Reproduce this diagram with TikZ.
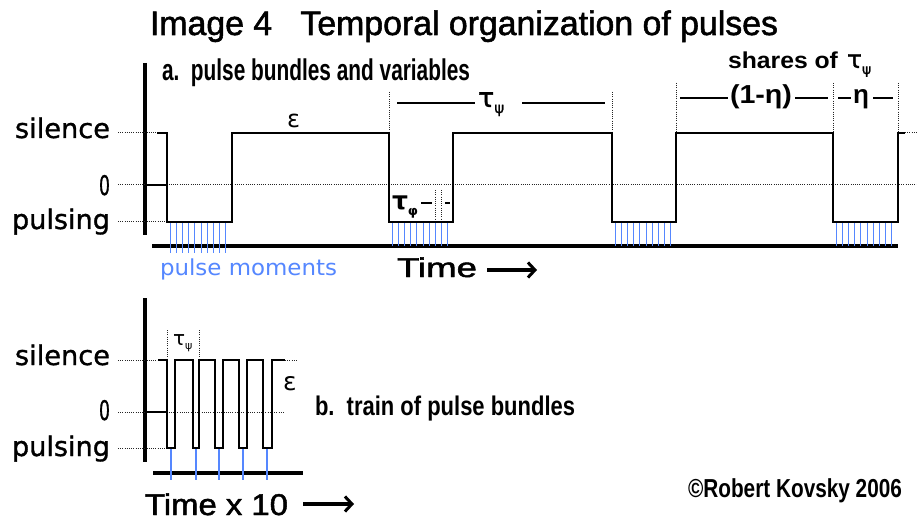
\documentclass[tikz,border=0pt]{standalone}
\usepackage{fontspec}
\setmainfont{DejaVu Sans}
\newfontfamily\lib{Liberation Sans}
\newfontfamily\libfb[FakeBold=1.6]{Liberation Sans}
\newfontfamily\djfb[FakeBold=1.2]{DejaVu Sans}
\usetikzlibrary{arrows.meta}
\definecolor{pulseblue}{RGB}{85,135,255}
\newcommand\fitw[2]{\resizebox{#1}{\height}{#2}}
\begin{document}
\begin{tikzpicture}[x=1pt,y=-1pt,
  wave/.style={line width=1.3pt, line join=miter},
  dots/.style={line width=1pt, dash pattern=on 1pt off 1.2pt, black!85},
  axisline/.style={line width=3.2pt},
  ptick/.style={pulseblue, line width=1pt},
  bigtick/.style={pulseblue, line width=2.6pt},
  lbl/.style={anchor=base west, inner sep=0pt, outer sep=0pt},
  dimline/.style={line width=1.2pt},
  timearrow/.style={line width=3.6pt, -{Straight Barb[length=7pt,width=15pt,line width=3pt]}},
  ylab/.style={lbl, font=\djfb\fontsize{27}{32}\selectfont},
  boldlab/.style={lbl, font=\lib\bfseries\fontsize{30}{34}\selectfont},
]
\useasboundingbox[fill=white] (0,0) rectangle (917,521);

% ---------- title ----------
\node[lbl, font=\libfb\fontsize{34}{40}\selectfont] (title) at (150,35)
  {\fitw{628pt}{Image 4\ \ \ Temporal organization of pulses}};

% ---------- panel a ----------
\node[boldlab] (alab) at (162,81) {\fitw{308pt}{a.\ \ pulse bundles and variables}};
\node[lbl, font=\lib\bfseries\fontsize{23}{26}\selectfont] (shares) at (728,69) {\fitw{110pt}{shares of}};
\node[lbl, font=\djfb\fontsize{25}{28}\selectfont] (sharetau) at (847,68)
  {τ\raisebox{-6pt}{\fontsize{14}{16}\selectfont ψ}};

\node[ylab] (sil) at (15,138) {\fitw{95pt}{silence}};
\node[ylab] (zero) at (99,195) {\fitw{11pt}{0}};
\node[ylab] (puls) at (12,229) {\fitw{98pt}{pulsing}};

% axes
\draw[axisline] (145,63) -- (145,235);
\draw[axisline] (152,246) -- (898,246);

% dotted level lines
\draw[dots] (118,133) -- (157,133);
\draw[dots] (118,185) -- (917,185);
\draw[dots] (118,222) -- (167,222);
\draw[dots] (905,133) -- (917,133);

% dotted verticals
\draw[dots] (389,92) -- (389,133);
\draw[dots] (612,92) -- (612,133);
\draw[dots] (676,83) -- (676,133);
\draw[dots] (833,83) -- (833,133);
\draw[dots] (898,83) -- (898,133);

% pulse moments
\foreach \s/\e in {167/253, 389/246, 612/246, 833/246}{
  \foreach \k in {0,...,9}{
    \draw[ptick] ({\s+3+6.2*\k},223) -- ({\s+3+6.2*\k},\e);
  }
}

% waveform
\draw[wave] (145,185) -- (167,185);
\draw[wave] (157,133) -- (167,133) -- (167,222) -- (232,222) -- (232,133)
  -- (389,133) -- (389,222) -- (453,222) -- (453,133)
  -- (612,133) -- (612,222) -- (676,222) -- (676,133)
  -- (833,133) -- (833,222) -- (898,222) -- (898,133) -- (905,133);

% epsilon
\node[lbl, font=\fontsize{24}{28}\selectfont] (eps) at (287,128) {ε};

% tau psi dimension
\draw[dimline] (397,103) -- (475,103);
\draw[dimline] (522,103) -- (605,103);
\node[lbl, font=\djfb\fontsize{27}{30}\selectfont] (tpsi) at (478,107)
  {τ\raisebox{-6pt}{\fontsize{15}{18}\selectfont ψ}};

% shares
\draw[dimline] (680,98) -- (728,98);
\draw[dimline] (795,98) -- (828,98);
\node[lbl, font=\lib\bfseries\fontsize{26}{28}\selectfont] (oneeta) at (730,104) {\fitw{62pt}{(1-η)}};
\draw[dimline] (838,98) -- (851,98);
\draw[dimline] (873,98) -- (893,98);
\node[lbl, font=\lib\bfseries\fontsize{26}{28}\selectfont] (eta) at (853,104) {η};

% tau phi
\node[lbl, font=\bfseries\fontsize{25}{30}\selectfont] (tphi) at (392,210)
  {τ\raisebox{-6pt}{\fontsize{13}{16}\selectfont φ}};
\draw[dimline] (421,203) -- (432,203);
\draw[dots] (435,190) -- (435,219);
\draw[dots] (441,190) -- (441,219);
\draw[dimline] (445,203) -- (450,203);

% pulse moments label & time
\node[lbl, text=pulseblue, font=\fontsize{22}{26}\selectfont] (pm) at (160,275) {\fitw{177pt}{pulse moments}};
\node[lbl, font=\libfb\fontsize{27}{31}\selectfont] (time) at (397,277) {\fitw{80pt}{Time}};
\coordinate (ta1) at (487,270);
\coordinate (ta2) at (537,270);
\draw[timearrow] (ta1) -- (ta2);

% ---------- panel b ----------
\node[ylab] (sil2) at (15,365) {\fitw{95pt}{silence}};
\node[ylab] (zero2) at (99,420) {\fitw{11pt}{0}};
\node[ylab] (puls2) at (12,456) {\fitw{98pt}{pulsing}};

\draw[axisline] (145,298) -- (145,462);
\draw[axisline] (153,473) -- (303,473);

\draw[dots] (118,360) -- (158,360);
\draw[dots] (118,412) -- (285,412);
\draw[dots] (118,448) -- (167,448);
\draw[dots] (285,360) -- (298,360);
\draw[dots] (167,330) -- (167,360);
\draw[dots] (199,330) -- (199,360);

\foreach \x in {171,196,219,243,267}{
  \draw[bigtick] (\x,448) -- (\x,480);
}

\draw[wave] (145,412) -- (167,412);
\draw[wave] (158,360) -- (167,360) -- (167,448) -- (175,448) -- (175,360)
  -- (193,360) -- (193,448) -- (199,448) -- (199,360)
  -- (215,360) -- (215,448) -- (223,448) -- (223,360)
  -- (239,360) -- (239,448) -- (247,448) -- (247,360)
  -- (263,360) -- (263,448) -- (272,448) -- (272,360) -- (285,360);

\node[lbl, font=\fontsize{20}{22}\selectfont] (tpsi2) at (173,345)
  {τ\raisebox{-4pt}{\fontsize{11}{13}\selectfont ψ}};
\node[lbl, font=\fontsize{25}{30}\selectfont] (eps2) at (283,390) {ε};

\node[lbl, font=\lib\bfseries\fontsize{27}{30}\selectfont] (blab) at (315,415) {\fitw{260pt}{b.\ \ train of pulse bundles}};

\node[lbl, font=\libfb\fontsize{30}{36}\selectfont] (time2) at (145,515) {\fitw{143pt}{Time x 10}};
\coordinate (tb1) at (303,504);
\coordinate (tb2) at (354,504);
\draw[timearrow] (tb1) -- (tb2);

\node[lbl, font=\lib\bfseries\fontsize{26}{30}\selectfont] (copy) at (688,497) {\fitw{214pt}{©Robert Kovsky 2006}};
\end{tikzpicture}
\end{document}
